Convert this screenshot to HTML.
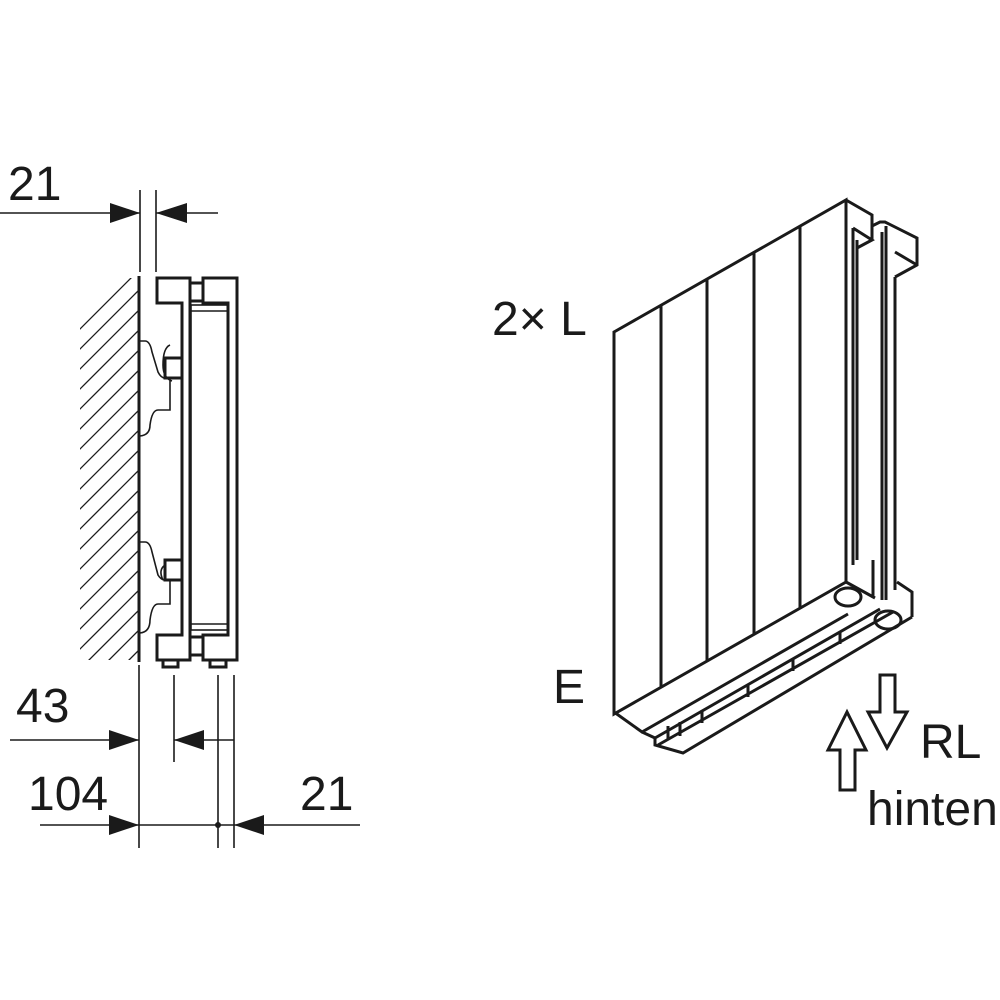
<!DOCTYPE html>
<html><head><meta charset="utf-8"><style>
html,body{margin:0;padding:0;background:#fff;}
svg{display:block}
text{font-family:"Liberation Sans Narrow","Liberation Sans",sans-serif;fill:#1a1a1a;font-size:48px}
</style></head><body>
<svg width="1000" height="1000" viewBox="0 0 1000 1000" xmlns="http://www.w3.org/2000/svg">
<defs><clipPath id="hc"><rect x="80" y="278" width="59" height="382"/></clipPath></defs>
<g stroke="#1a1a1a" fill="none" stroke-width="1.6">
<line x1="140" y1="190" x2="140" y2="272"/><line x1="156" y1="190" x2="156" y2="272"/>
<line x1="0" y1="213" x2="140" y2="213"/><line x1="156" y1="213" x2="218" y2="213"/>
</g>
<g fill="#1a1a1a">
<polygon points="140,213 110,203 110,223"/><polygon points="156,213 187,203 187,223"/>
</g>
<text x="8" y="200">21</text>
<g clip-path="url(#hc)" stroke="#1a1a1a" stroke-width="1.3">
<line x1="139" y1="270" x2="60" y2="349"/><line x1="139" y1="290" x2="60" y2="369"/>
<line x1="139" y1="310" x2="60" y2="389"/><line x1="139" y1="330" x2="60" y2="409"/>
<line x1="139" y1="350" x2="60" y2="429"/><line x1="139" y1="370" x2="60" y2="449"/>
<line x1="139" y1="390" x2="60" y2="469"/><line x1="139" y1="410" x2="60" y2="489"/>
<line x1="139" y1="430" x2="60" y2="509"/><line x1="139" y1="450" x2="60" y2="529"/>
<line x1="139" y1="470" x2="60" y2="549"/><line x1="139" y1="490" x2="60" y2="569"/>
<line x1="139" y1="510" x2="60" y2="589"/><line x1="139" y1="530" x2="60" y2="609"/>
<line x1="139" y1="550" x2="60" y2="629"/><line x1="139" y1="570" x2="60" y2="649"/>
<line x1="139" y1="590" x2="60" y2="669"/><line x1="139" y1="610" x2="60" y2="689"/>
<line x1="139" y1="630" x2="60" y2="709"/><line x1="139" y1="650" x2="60" y2="729"/>
<line x1="139" y1="670" x2="60" y2="749"/><line x1="139" y1="690" x2="60" y2="769"/>
</g>
<g stroke="#1a1a1a" fill="none" stroke-width="3">
<line x1="139" y1="276" x2="139" y2="662"/>
<polygon points="157,278 190,278 190,660 157,660 157,635 182,635 182,303 157,303"/>
<polygon points="203,278 237,278 237,660 203,660 203,635 228,635 228,303 203,303"/>
<rect x="190" y="283" width="13" height="18"/><rect x="190" y="637" width="13" height="18"/>
<rect x="165" y="358" width="17" height="20"/><rect x="165" y="560" width="17" height="20"/>
<rect x="163" y="660" width="15" height="7"/><rect x="210" y="660" width="16" height="7"/>
</g>
<g stroke="#1a1a1a" fill="none" stroke-width="1.6">
<rect x="191" y="305" width="37" height="325"/><line x1="191" y1="311" x2="228" y2="311"/><line x1="191" y1="624" x2="228" y2="624"/>
<path d="M140,341 H145 Q150,341 152,352 L158,372 Q161,378 165,378 M170,345 Q163,348 163,365 Q163,378 172,381 M170,378 V410 H158 Q152,410 150,425 Q150,435 140,436"/>
<path d="M140,542 H145 Q150,542 152,552 L158,575 Q161,580 165,580 M165,565 Q158,570 163,580 M170,580 V604 H158 Q152,604 150,620 Q150,632 140,633"/>
<line x1="139" y1="665" x2="139" y2="848"/><line x1="174" y1="675" x2="174" y2="762"/>
<line x1="218" y1="675" x2="218" y2="848"/><line x1="234" y1="675" x2="234" y2="848"/>
<line x1="10" y1="740" x2="139" y2="740"/><line x1="174" y1="740" x2="234" y2="740"/>
<line x1="40" y1="825" x2="360" y2="825"/>
</g>
<g fill="#1a1a1a">
<polygon points="139,740 109,730 109,750"/><polygon points="174,740 204,730 204,750"/>
<polygon points="139,825 109,815 109,835"/><polygon points="234,825 264,815 264,835"/>
<circle cx="218" cy="825" r="3"/>
</g>
<text x="16" y="722">43</text>
<text x="28" y="810">104</text>
<text x="300" y="810">21</text>

<!-- right radiator -->
<g stroke="#1a1a1a" fill="none" stroke-width="3" stroke-linejoin="miter">
<polygon points="614,332 846,200 846,582 614,714"/>
<line x1="661" y1="305" x2="661" y2="687"/>
<line x1="707" y1="279" x2="707" y2="661"/>
<line x1="754" y1="252" x2="754" y2="634"/>
<line x1="800" y1="226" x2="800" y2="608"/>
<!-- top end caps -->
<polyline points="846,200 872,215 872,240"/>
<polyline points="872,226 880,222 885,222 917,238 917,265 895,277"/>
<polyline points="853,228 853,565"/>
<polyline points="857,240 857,560"/>
<polyline points="853,228 872,240 857,248"/>
<polyline points="882,232 882,600"/>
<polyline points="886,226 886,600"/>
<polyline points="895,277 895,590"/>
<polyline points="895,252 917,265"/>
<!-- lower cap -->
<polyline points="897,582 912,592 912,617"/>
<polyline points="873,560 873,598"/>
<!-- bottom tray -->
<polyline points="846,582 875,598"/>
<polyline points="614,712 642,732 848,614"/>
<line x1="655" y1="738" x2="880" y2="609"/>
<line x1="658" y1="745" x2="893" y2="612"/>
<polyline points="642,732 655,738 655,745 683,753 912,617"/>
<line x1="668" y1="726" x2="668" y2="740"/>
<line x1="680" y1="722" x2="680" y2="736"/>
<line x1="702" y1="710" x2="702" y2="723"/>
<line x1="748" y1="684" x2="748" y2="697"/>
<line x1="793" y1="658" x2="793" y2="671"/>
<line x1="840" y1="631" x2="840" y2="644"/>
<ellipse cx="848" cy="597" rx="13" ry="9"/>
<ellipse cx="888" cy="620" rx="13" ry="9"/>
<!-- arrows -->
<polygon points="880,675 895,675 895,712 907,712 887,748 868,712 880,712"/>
<polygon points="840,790 855,790 855,750 866,750 847,712 828,750 840,750"/>
</g>
<text x="492" y="335">2× L</text>
<text x="553" y="703">E</text>
<text x="920" y="758">RL</text>
<text x="867" y="825" style="font-size:48px">hinten</text>
</svg>
</body></html>
